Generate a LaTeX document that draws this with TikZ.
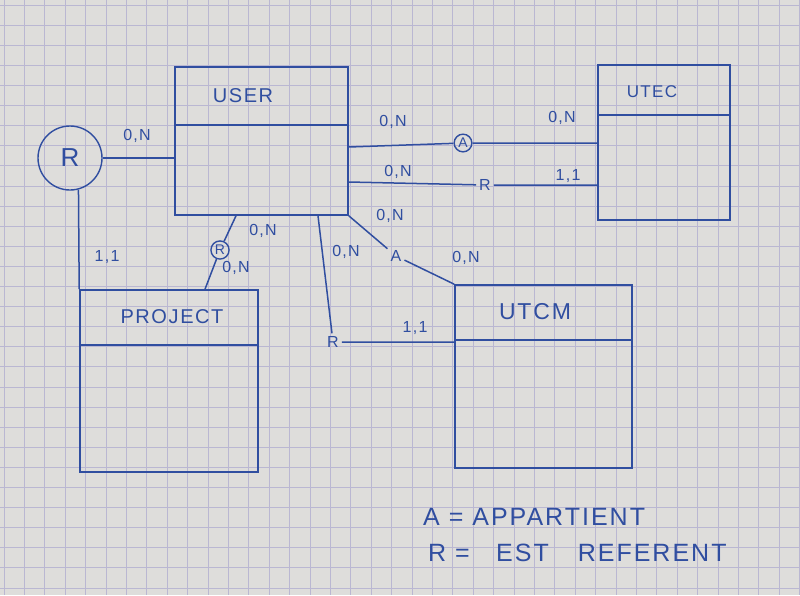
\documentclass[tikz,border=0pt]{standalone}
\usepackage{fontspec}
\setmainfont{Liberation Sans}
\newfontfamily\hand[LetterSpace=8]{Liberation Sans}
\definecolor{ink}{RGB}{48,78,160}
\definecolor{paper}{RGB}{222,221,219}
\definecolor{gridc}{RGB}{186,183,210}
\begin{document}
\begin{tikzpicture}[x=1pt,y=-1pt,
  entity/.style={draw=ink, line width=1.6pt, rectangle, inner sep=0pt},
  relc/.style={draw=ink, line width=1.4pt, circle, inner sep=1.5pt, text=ink, font=\fontsize{14}{14}\selectfont},
  rell/.style={inner sep=3pt, text=ink, font=\fontsize{16}{16}\selectfont},
  card/.style={text=ink, inner sep=1pt, font=\hand\fontsize{16}{16}\selectfont},
  link/.style={draw=ink, line width=1.5pt},
  hdr/.style={draw=ink, line width=1.5pt},
  title/.style={text=ink, font=\hand\fontsize{20}{20}\selectfont},
  legend/.style={text=ink, anchor=west, inner sep=0pt, font=\hand\fontsize{25}{25}\selectfont}]
\fill[paper] (0,0) rectangle (800,595);
\useasboundingbox (0,0) rectangle (800,595);
\foreach \i in {0,...,39} {\draw[gridc, line width=0.7pt] ({4+\i*20.4},0) -- ({4+\i*20.4},595);}
\foreach \j in {0,...,29} {\draw[gridc, line width=0.7pt] (0,{5+\j*20.1}) -- (800,{5+\j*20.1});}

% entities
\node[entity, minimum width=173, minimum height=148] (user) at (261.5,141) {};
\node[entity, minimum width=132, minimum height=155] (utec) at (664,142.5) {};
\node[entity, minimum width=178, minimum height=182] (project) at (169,381) {};
\node[entity, minimum width=177, minimum height=183] (utcm) at (543.5,376.5) {};
\draw[hdr] (user.west |- 0,125) -- (user.east |- 0,125);
\draw[hdr] (utec.west |- 0,115) -- (utec.east |- 0,115);
\draw[hdr] (project.west |- 0,345) -- (project.east |- 0,345);
\draw[hdr] (utcm.west |- 0,340) -- (utcm.east |- 0,340);
\node[title] (tuser) at (243,96) {USER};
\node[title, font=\hand\fontsize{17}{17}\selectfont] (tutec) at (652,92) {UTEC};
\node[title] (tproject) at (172,317) {PROJECT};
\node[title, font=\hand\fontsize{23}{23}\selectfont] (tutcm) at (535,312) {UTCM};

% relationships
\node[relc, minimum size=64, font=\fontsize{26}{26}\selectfont] (rbig) at (70,158) {R};
\node[relc] (a1) at (463,143) {A};
\node[rell] (r1) at (485,185) {R};
\node[rell] (a2) at (396,256) {A};
\node[rell] (r2) at (333,342) {R};
\node[relc] (rp) at (220,250) {R};

% connectors
\coordinate (uA) at (user.east |- 0,147);
\coordinate (uR) at (user.east |- 0,182);
\coordinate (uB1) at (user.south -| 318,0);
\coordinate (uB2) at (user.south -| 236,0);
\draw[link] (rbig) -- (user.west |- rbig);
\draw[link] (rbig.-75) -- (project.north west);
\draw[link] (uA) -- (a1) -- (utec.west |- a1);
\draw[link] (uR) -- (r1) -- (utec.west |- r1);
\draw[link] (user.south east) -- (a2) -- (utcm.north west);
\draw[link] (uB1) -- (r2) -- (utcm.west |- r2);
\draw[link] (uB2) -- (rp) -- (project.north -| 205,0);

% cardinalities
\node[card] (c1) at (137,136) {0,N};
\node[card] (c2) at (107,257) {1,1};
\node[card] (c3) at (393,122) {0,N};
\node[card] (c4) at (562,118) {0,N};
\node[card] (c5) at (398,172) {0,N};
\node[card] (c6) at (568,176) {1,1};
\node[card] (c7) at (390,216) {0,N};
\node[card] (c8) at (466,258) {0,N};
\node[card] (c9) at (346,252) {0,N};
\node[card] (c10) at (263,231) {0,N};
\node[card] (c11) at (236,268) {0,N};
\node[card] (c12) at (415,328) {1,1};

% legend
\node[legend] (l1) at (423,517) {A = APPARTIENT};
\node[legend] (l2) at (428,553) {R =\hspace{0.7em} EST\hspace{0.8em} REFERENT};
\end{tikzpicture}
\end{document}
